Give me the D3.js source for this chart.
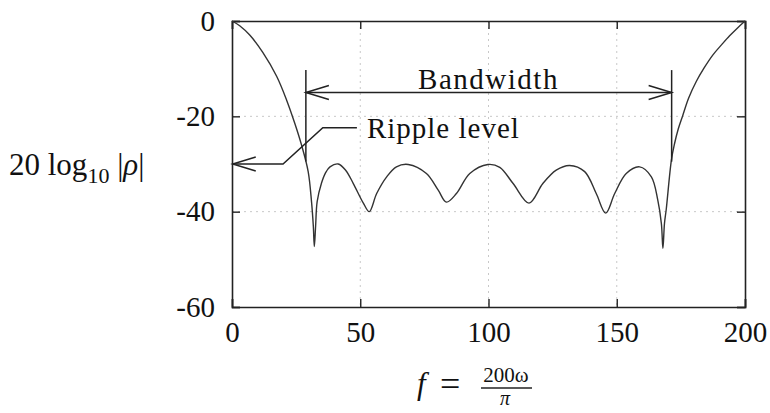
<!DOCTYPE html>
<html>
<head>
<meta charset="utf-8">
<script src="https://cdn.jsdelivr.net/npm/d3@7"></script>
<style>
  body { margin: 0; background: #fff; }
  svg text { font-family: "Liberation Serif", "Times New Roman", serif; fill: #111; }
</style>
</head>
<body>
<div id="chart"></div>
<script>
// values: frequency f and 20 log10 |rho|
const freq = [0, 3.0, 7.0, 12.0, 17.4, 21.3, 24.5, 27.1, 29.7, 31.0, 31.7, 32.1, 32.6, 33.2, 34.9, 36.5, 38.2, 41.4,
  44.3, 47.3, 51.2, 53.5, 56.4, 60.3, 64.1, 68.7, 75.8, 80.4, 83.6, 87.5, 92.7, 99.8,
  104.4, 109.6, 115.8, 121.2, 126.4, 131.6, 137.5, 142.0, 145.7, 149.2, 153.7, 158.9,
  163.5, 166.0, 167.4, 168.0, 168.6, 169.3, 171.3, 172.5, 174.0, 175.8, 178.0, 181.0, 184.0, 187.5, 191.0, 194.0, 197.0, 200];
const level = [0, -1.0, -3.0, -6.6, -11.6, -16.6, -21.5, -26.0, -31.6, -37.9, -43.0, -47.3, -43.0, -37.9, -34.0, -31.8, -30.6, -30.0,
  -31.3, -34.1, -38.2, -40.0, -36.2, -32.7, -30.6, -30.1, -32.0, -35.5, -38.0, -36.2, -32.0, -30.1,
  -30.7, -34.1, -38.2, -34.1, -31.3, -30.3, -31.6, -36.2, -40.3, -36.2, -32.0, -30.6,
  -32.7, -37.6, -42.5, -47.7, -42.5, -39.5, -29.2, -25.8, -22.6, -19.7, -16.2, -12.7, -9.9, -7.1, -4.9, -3.1, -1.5, 0];

const xTicks = [0, 50, 100, 150, 200];
const yTicks = [0, -20, -40, -60];
const gridX = [50, 100, 150];
const gridY = [-20, -40];

// annotations (data units)
const bandEdges = [28.8, 171.4];
const bandY = -15;
const bandTop = -10.3, bandBottom = -29.5;
const rippleLevel = -30;
const rippleLeader = [[0.3, -30], [19.9, -30], [35.4, -22.4], [48.7, -22.4]];

const margin = {top: 21, right: 25, bottom: 106, left: 232};
const width = 770 - margin.left - margin.right;
const height = 413 - margin.top - margin.bottom;

const svg = d3.select("#chart").append("svg")
  .attr("width", 770).attr("height", 413);
const g = svg.append("g").attr("transform", "translate(" + margin.left + "," + margin.top + ")");

const x = d3.scaleLinear().domain([0, 200]).range([0, width]);
const y = d3.scaleLinear().domain([-60, 0]).range([height, 0]);

// faint dotted grid
g.selectAll(".gx").data(gridX).enter().append("line")
  .attr("x1", d => x(d)).attr("x2", d => x(d)).attr("y1", 0).attr("y2", height)
  .style("stroke", "#c8c8c8").style("stroke-width", 1).style("stroke-dasharray", "2,4");
g.selectAll(".gy").data(gridY).enter().append("line")
  .attr("y1", d => y(d)).attr("y2", d => y(d)).attr("x1", 0).attr("x2", width)
  .style("stroke", "#c8c8c8").style("stroke-width", 1).style("stroke-dasharray", "2,4");

// axes with inward ticks on all four sides
const tk = 8;
g.append("g").attr("transform", "translate(0," + height + ")")
  .call(d3.axisBottom(x).tickValues(xTicks).tickSize(-tk).tickPadding(14).tickFormat(d3.format("d")));
g.append("g")
  .call(d3.axisTop(x).tickValues(xTicks).tickSize(-tk).tickFormat(""));
g.append("g")
  .call(d3.axisLeft(y).tickValues(yTicks).tickSize(-tk).tickPadding(17).tickFormat(d => d === 0 ? "0" : "-" + Math.abs(d)));
g.append("g").attr("transform", "translate(" + width + ",0)")
  .call(d3.axisRight(y).tickValues(yTicks).tickSize(-tk).tickFormat(""));

g.selectAll(".domain").style("stroke", "#222").style("stroke-width", 1.6);
g.selectAll(".tick line").style("stroke", "#222").style("stroke-width", 1.4);
g.selectAll(".tick text").style("font-size", "29px").style("font-family", "Liberation Serif, serif").style("fill", "#111");

// response curve
const pts = freq.map((f, i) => [f, level[i]]);
g.append("path")
  .datum(pts)
  .attr("d", d3.line().x(d => x(d[0])).y(d => y(d[1])).curve(d3.curveCatmullRom.alpha(0.5)))
  .style("fill", "none").style("stroke", "#333").style("stroke-width", 1.4);

// arrowhead helper (open V)
function head(px, py, dir) {
  const L = 23, s = 7;
  return "M" + (px + dir * L) + "," + (py - s) + "L" + px + "," + py + "L" + (px + dir * L) + "," + (py + s);
}
function styled(sel) {
  return sel.style("fill", "none").style("stroke", "#222").style("stroke-width", 1.5);
}

// bandwidth markers
bandEdges.forEach(f => {
  styled(g.append("line").attr("x1", x(f)).attr("x2", x(f)).attr("y1", y(bandTop)).attr("y2", y(bandBottom)));
});
styled(g.append("line").attr("x1", x(bandEdges[0])).attr("x2", x(bandEdges[1])).attr("y1", y(bandY)).attr("y2", y(bandY)));
styled(g.append("path").attr("d", head(x(bandEdges[0]), y(bandY), 1)));
styled(g.append("path").attr("d", head(x(bandEdges[1]), y(bandY), -1)));
g.append("text").attr("x", x(100)).attr("y", y(-14.3))
  .attr("text-anchor", "middle").style("font-size", "29px").style("letter-spacing", "1.5px")
  .text("Bandwidth");

// ripple level leader
const leader = d3.line().x(d => x(d[0])).y(d => y(d[1]));
styled(g.append("path").attr("d", leader(rippleLeader)));
styled(g.append("path").attr("d", head(x(rippleLeader[0][0]), y(rippleLevel), 1)));
g.append("text").attr("x", x(52.6)).attr("y", y(-24.5))
  .style("font-size", "29px").style("letter-spacing", "1px")
  .text("Ripple level");

// y-axis title: 20 log10 |rho|
const yt = svg.append("text").attr("x", 9).attr("y", 175).style("font-size", "31px");
yt.append("tspan").text("20 log");
yt.append("tspan").attr("dy", 8).style("font-size", "22px").text("10");
yt.append("tspan").attr("dy", -8).text(" |");
yt.append("tspan").style("font-style", "italic").text("ρ");
yt.append("tspan").text("|");

// x-axis title: f = 200ω/π
svg.append("text").attr("x", 417).attr("y", 394).style("font-size", "31px").style("font-style", "italic").text("f");
svg.append("text").attr("x", 440).attr("y", 396).style("font-size", "36px").text("=");
svg.append("text").attr("x", 506).attr("y", 382).attr("text-anchor", "middle").style("font-size", "21px").text("200ω");
svg.append("line").attr("x1", 481).attr("x2", 532).attr("y1", 388).attr("y2", 388).style("stroke", "#222").style("stroke-width", 1.4);
svg.append("text").attr("x", 505).attr("y", 405).attr("text-anchor", "middle").style("font-size", "20px").style("font-style", "italic").text("π");
</script>
</body>
</html>
